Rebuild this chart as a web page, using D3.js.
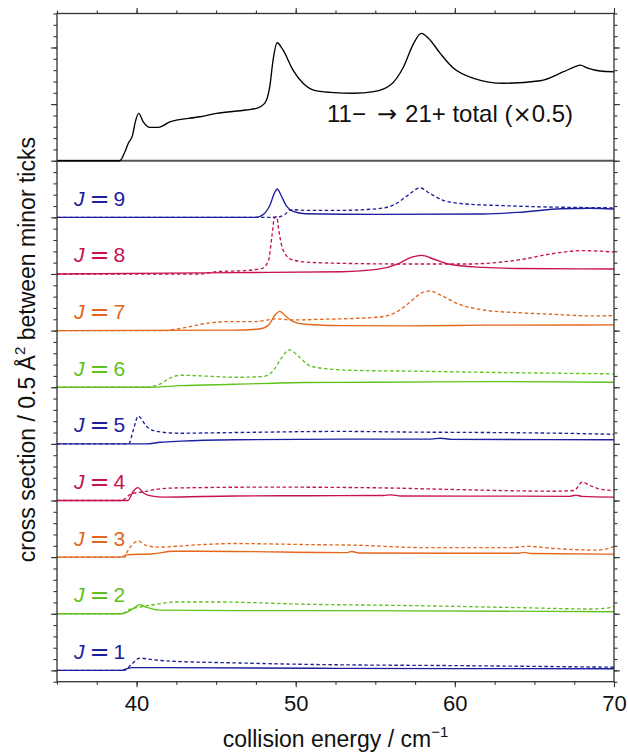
<!DOCTYPE html>
<html>
<head>
<meta charset="utf-8">
<script src="https://cdn.jsdelivr.net/npm/d3@7"></script>
<style>
  body { margin: 0; background: #fff; }
  text { font-family: "Liberation Sans", Arial, Helvetica, sans-serif; fill: #111; }
  .sym { font-family: "DejaVu Sans", sans-serif; }
</style>
</head>
<body>
<svg id="chart" width="628" height="753"></svg>
<script>
// ---- data -------------------------------------------------------------
// collision energy (cm^-1) vs cross section (Å^2)
const energyDomain = [35, 70];
const energyTickLabels = [40, 50, 60, 70];
const totalFactor = 0.5;      // total is drawn scaled by this factor
const levelSpacing = 2.5;     // vertical offset between stacked J curves (Å^2)
const totalBase = 22.5;       // baseline of the total curve panel (Å^2)
const levels = [1, 2, 3, 4, 5, 6, 7, 8, 9];
const levelColors = ["#1c209e", "#5fc21c", "#e2661c", "#c8124c"]; // J = 1,2,3,4 then repeating

// 11- -> 21+ total cross section
const totalSection = [[35,0],[38.95,0],[39.27,0.80],[39.48,1.54],[39.75,2.26],[39.9,3.30],[40.13,4.18],
  [40.42,3.44],[40.84,2.94],[41.36,2.94],[41.67,3.10],[42.09,3.44],[43.97,3.88],[45.02,4.18],[46.9,4.48],
  [47.53,4.62],[48.05,5.06],[48.37,6.54],[48.58,8.90],[48.83,10.42],[49.2,9.78],[49.83,8.00],[50.46,6.84],
  [51.13,6.24],[52.18,6.04],[53.64,5.96],[54.9,6.10],[55.95,6.68],[56.78,8.30],[57.41,10.36],[57.89,11.24],
  [58.35,10.80],[59.08,9.48],[59.92,8.16],[61.18,7.28],[63.06,6.84],[65.36,7.06],[66.83,7.86],[67.56,8.30],
  [67.88,8.44],[68.3,8.20],[69.13,7.92],[70,7.86]];

// state-resolved curves: solid and dashed for each J
const j1Solid  = [[35,0],[39.0,0],[39.35,0.06],[39.7,0.12],[41.7,0.12],[52.9,0.09],[70,0.07]];
const j1Dashed = [[35,0],[39.2,0],[39.7,0.28],[40.2,0.54],[41.0,0.47],[42.1,0.41],[46.2,0.33],[51.15,0.26],[60,0.21],[70,0.14]];
const j2Solid  = [[35,0],[39.1,0],[39.46,0.09],[39.9,0.28],[40.2,0.40],[40.6,0.29],[41.5,0.16],[46.2,0.14],[57.3,0.13],[70,0.09]];
const j2Dashed = [[35,0],[39.1,0],[39.46,0.16],[40.4,0.32],[41.25,0.42],[42.4,0.52],[45.0,0.52],[50.6,0.42],[57.3,0.36],[64.0,0.27],[68.5,0.21],[69.5,0.24],[70,0.33]];
const j3Solid  = [[35,0],[39.0,0],[39.38,0.10],[41.05,0.15],[42.3,0.26],[46.2,0.25],[53.2,0.20],[53.5,0.25],[54.0,0.18],[59.6,0.17],[64.0,0.17],[64.3,0.21],[64.8,0.16],[70,0.13]];
const j3Dashed = [[35,0],[39.25,0],[39.4,0.22],[39.7,0.52],[40.1,0.71],[40.6,0.52],[41.3,0.44],[44.0,0.55],[46.1,0.6],[51.1,0.55],[53.6,0.53],[58.05,0.42],[63.6,0.42],[64.5,0.48],[66.25,0.38],[68.95,0.31],[70,0.46]];
const j4Solid  = [[35,0],[39.45,0],[39.8,0.41],[40.07,0.57],[40.5,0.30],[41.0,0.19],[41.7,0.15],[46.2,0.20],[55.5,0.22],[56.0,0.25],[56.6,0.20],[64.0,0.19],[67.2,0.18],[67.6,0.24],[68.0,0.18],[70,0.15]];
const j4Dashed = [[35,0],[39.0,0],[39.7,0.30],[40.4,0.38],[41.3,0.50],[42.3,0.55],[48.4,0.59],[55.1,0.56],[59.6,0.49],[66.25,0.41],[67.5,0.44],[68.0,0.81],[68.5,0.66],[69.2,0.49],[70,0.44]];
const j5Solid  = [[35,0],[40.6,0],[41.5,0.07],[42.8,0.12],[46.2,0.18],[52.9,0.21],[58.5,0.21],[59.1,0.25],[59.8,0.20],[70,0.18]];
const j5Dashed = [[35,0],[39.5,0],[39.8,0.62],[40.1,1.22],[40.63,0.77],[41.26,0.55],[42.7,0.47],[46.2,0.5],[52.9,0.55],[57.3,0.52],[64.0,0.49],[67.4,0.46],[70,0.42]];
const j6Solid  = [[35,0],[40.6,0],[42.8,0.07],[46.2,0.13],[50.6,0.21],[55.1,0.22],[62.9,0.25],[70,0.22]];
const j6Dashed = [[35,0],[40.6,0],[41.5,0.15],[42.1,0.41],[42.8,0.53],[44.4,0.49],[46.2,0.44],[47.9,0.47],[48.6,0.74],[49.06,1.25],[49.6,1.65],[50.2,1.35],[50.85,0.96],[52.0,0.81],[54.0,0.74],[57.3,0.71],[61.8,0.66],[66.25,0.62],[70,0.59]];
const j7Solid  = [[35,0],[46,0.02],[47.7,0.07],[48.3,0.25],[48.7,0.69],[49.0,0.85],[49.4,0.62],[49.84,0.40],[50.6,0.28],[52.9,0.22],[57.3,0.21],[61.8,0.24],[70,0.25]];
const j7Dashed = [[35,0],[41.7,0],[42.8,0.10],[44.4,0.32],[45.7,0.40],[47.5,0.40],[48.8,0.52],[49.7,0.47],[51.7,0.50],[55.1,0.59],[56.2,0.77],[57.1,1.21],[57.8,1.62],[58.4,1.75],[59.1,1.57],[60.2,1.18],[61.8,0.91],[64.0,0.79],[66.25,0.72],[68.5,0.65],[70,0.66]];
const j8Solid  = [[35,0],[46.2,0.06],[52.9,0.10],[55.1,0.20],[56.4,0.44],[57.3,0.74],[57.9,0.82],[58.7,0.65],[59.6,0.44],[61.8,0.29],[64.0,0.24],[70,0.22]];
const j8Dashed = [[35,0],[44,0],[45.0,0.10],[46.8,0.15],[47.9,0.25],[48.3,0.62],[48.5,1.65],[48.66,2.46],[48.8,2.53],[48.95,1.87],[49.17,1.13],[49.7,0.65],[50.6,0.53],[52.9,0.47],[57.3,0.44],[60.7,0.44],[64.0,0.62],[66.25,0.91],[68.0,1.03],[70,0.97]];
const j9Solid  = [[35,0],[47.5,0],[47.95,0.12],[48.39,0.56],[48.66,1.07],[48.84,1.25],[49.06,1.00],[49.4,0.52],[49.84,0.26],[50.6,0.16],[55.1,0.13],[61.8,0.15],[64.0,0.22],[66.7,0.38],[68.5,0.40],[70,0.37]];
const j9Dashed = [[35,0],[48.2,0],[48.8,0.01],[49.3,0.12],[49.7,0.34],[50.6,0.31],[52.86,0.31],[55.1,0.38],[56.2,0.56],[57.1,1.00],[57.8,1.30],[58.4,1.07],[59.3,0.74],[60.7,0.59],[62.9,0.52],[65.1,0.47],[67.4,0.44],[70,0.42]];

const solidCurves  = [j1Solid, j2Solid, j3Solid, j4Solid, j5Solid, j6Solid, j7Solid, j8Solid, j9Solid];
const dashedCurves = [j1Dashed, j2Dashed, j3Dashed, j4Dashed, j5Dashed, j6Dashed, j7Dashed, j8Dashed, j9Dashed];

// ---- layout -------------------------------------------------------------
const plot = { left: 57, right: 614, top: 13.5, bottom: 681.7 };
const svg = d3.select("#chart");

const x = d3.scaleLinear().domain(energyDomain).range([plot.left, plot.right]);
const y = d3.scaleLinear().domain([-0.5, 29]).range([plot.bottom, plot.top]);

const axisColor = "#333";

svg.append("defs").append("clipPath").attr("id", "plotClip")
  .append("rect")
  .attr("x", plot.left).attr("y", plot.top)
  .attr("width", plot.right - plot.left).attr("height", plot.bottom - plot.top);

// ---- axes ----------------------------------------------------------------
const xMinor = d3.range(energyDomain[0], energyDomain[1] + 0.01, 2.5);
const yMinor = d3.range(-0.5, 29.01, 0.5);
const yMajor = d3.range(0, 27.51, levelSpacing);

function styleAxis(g) {
  g.select(".domain").remove();
  g.selectAll(".tick line").attr("stroke", axisColor).attr("stroke-width", 1.1);
}

// bottom
svg.append("g").attr("transform", `translate(0,${plot.bottom})`)
  .call(d3.axisBottom(x).tickValues(xMinor).tickSize(3).tickFormat(""))
  .call(styleAxis);
svg.append("g").attr("transform", `translate(0,${plot.bottom})`)
  .call(d3.axisBottom(x).tickValues(energyTickLabels).tickSize(5.5).tickPadding(8).tickFormat(d3.format("d")))
  .call(styleAxis)
  .call(g => g.selectAll(".tick text").attr("font-size", 22).attr("fill", "#111")
    .attr("font-family", '"Liberation Sans", Arial, sans-serif'));
// top
svg.append("g").attr("transform", `translate(0,${plot.top})`)
  .call(d3.axisTop(x).tickValues(xMinor).tickSize(3).tickFormat(""))
  .call(styleAxis);
svg.append("g").attr("transform", `translate(0,${plot.top})`)
  .call(d3.axisTop(x).tickValues(energyTickLabels).tickSize(5.5).tickFormat(""))
  .call(styleAxis);
// left
svg.append("g").attr("transform", `translate(${plot.left},0)`)
  .call(d3.axisLeft(y).tickValues(yMinor).tickSize(3.5).tickFormat(""))
  .call(styleAxis);
svg.append("g").attr("transform", `translate(${plot.left},0)`)
  .call(d3.axisLeft(y).tickValues(yMajor).tickSize(6).tickFormat(""))
  .call(styleAxis);
// right
svg.append("g").attr("transform", `translate(${plot.right},0)`)
  .call(d3.axisRight(y).tickValues(yMinor).tickSize(3.5).tickFormat(""))
  .call(styleAxis);
svg.append("g").attr("transform", `translate(${plot.right},0)`)
  .call(d3.axisRight(y).tickValues(yMajor).tickSize(6).tickFormat(""))
  .call(styleAxis);

// panel divider under the total curve
svg.append("line")
  .attr("x1", plot.left).attr("x2", plot.right)
  .attr("y1", y(totalBase)).attr("y2", y(totalBase))
  .attr("stroke", "#555").attr("stroke-width", 1.8);

// ---- curves ------------------------------------------------------------
const curves = svg.append("g").attr("clip-path", "url(#plotClip)");

const lineAt = base => d3.line()
  .x(d => x(d[0]))
  .y(d => y(base + d[1]))
  .curve(d3.curveMonotoneX);

levels.forEach((J, i) => {
  const base = (J - 1) * levelSpacing;
  const color = levelColors[i % levelColors.length];
  curves.append("path")
    .datum(dashedCurves[i])
    .attr("d", lineAt(base))
    .attr("fill", "none").attr("stroke", color)
    .attr("stroke-width", 1.35).attr("stroke-dasharray", "3.5,2.5");
  curves.append("path")
    .datum(solidCurves[i])
    .attr("d", lineAt(base))
    .attr("fill", "none").attr("stroke", color)
    .attr("stroke-width", 1.35);

  const label = svg.append("text")
    .attr("x", 74).attr("y", y(base) - 11.5)
    .attr("font-size", 21)
    .style("fill", color);
  label.append("tspan").attr("font-style", "italic").style("fill", color).text("J");
  label.append("tspan").attr("class", "sym").attr("font-size", 24).attr("dx", 5).attr("dy", 1)
    .style("fill", color).text("=");
  label.append("tspan").attr("dx", 4).attr("dy", -1).style("fill", color).text(J);
});

// total (scaled)
curves.append("path")
  .datum(totalSection)
  .attr("d", d3.line()
    .x(d => x(d[0]))
    .y(d => y(totalBase + totalFactor * d[1]))
    .curve(d3.curveMonotoneX))
  .attr("fill", "none").attr("stroke", "#000").attr("stroke-width", 1.35);

// frame
svg.append("rect")
  .attr("x", plot.left).attr("y", plot.top)
  .attr("width", plot.right - plot.left).attr("height", plot.bottom - plot.top)
  .attr("fill", "none").attr("stroke", axisColor).attr("stroke-width", 1.3);

// ---- text ----------------------------------------------------------------
const totalLabel = svg.append("text")
  .attr("x", 327).attr("y", 121.5)
  .attr("font-size", 24);
totalLabel.append("tspan").text("11\u2212");
totalLabel.append("tspan").attr("class", "sym").attr("dx", 11).attr("font-size", 24).text("\u2192");
totalLabel.append("tspan").attr("dx", 8).text("21+ total (");
totalLabel.append("tspan").attr("class", "sym").attr("font-size", 23).text("\u00d7");
totalLabel.append("tspan").text("0.5)");

const xTitle = svg.append("text")
  .attr("x", (plot.left + plot.right) / 2).attr("y", 747)
  .attr("text-anchor", "middle").attr("font-size", 23);
xTitle.append("tspan").text("collision energy / cm");
xTitle.append("tspan").attr("font-size", 15).attr("dy", -10).text("\u22121");

const yTitle = svg.append("text")
  .attr("transform", `translate(35,${(plot.top + plot.bottom) / 2 + 2}) rotate(-90)`)
  .attr("text-anchor", "middle").attr("font-size", 23);
yTitle.append("tspan").text("cross section / 0.5 \u00c5");
yTitle.append("tspan").attr("font-size", 15).attr("dy", -10).text("2");
yTitle.append("tspan").attr("dy", 10).text(" between minor ticks");
</script>
</body>
</html>
